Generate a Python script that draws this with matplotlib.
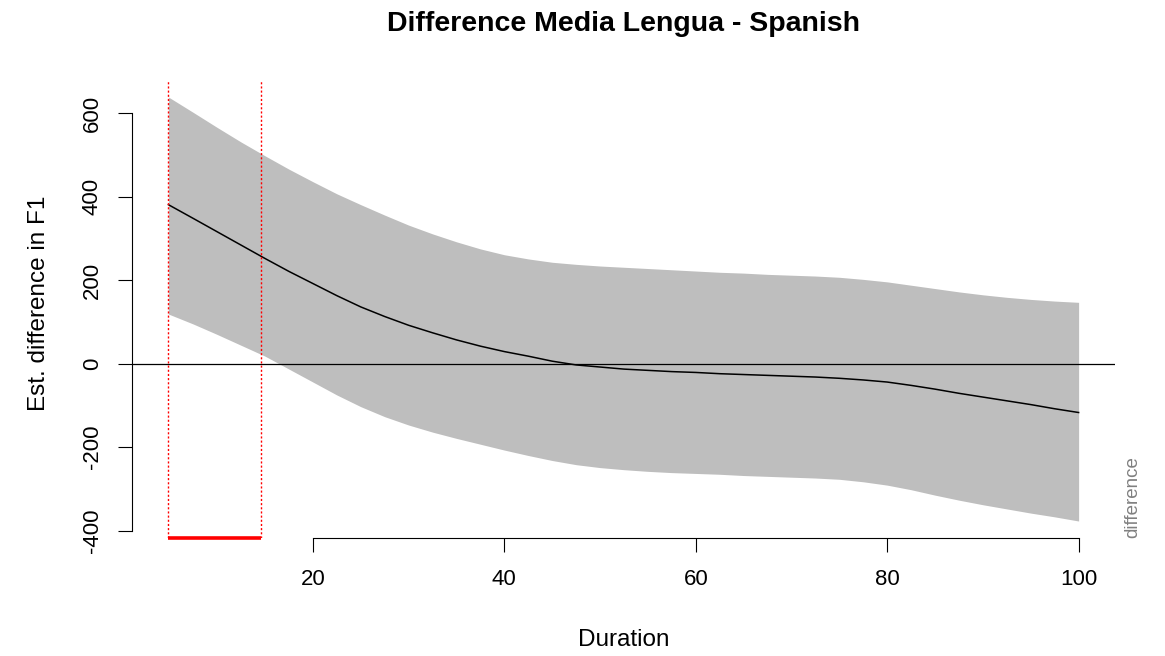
import matplotlib.pyplot as plt

# estimated difference curve (Media Lengua minus Spanish) with its confidence band
duration = [4.9, 7.5, 10, 12.5, 15, 17.5, 20, 22.5, 25, 27.5, 30, 32.5, 35, 37.5, 40, 42.5,
            45, 47.5, 50, 52.5, 55, 57.5, 60, 62.5, 65, 67.5, 70, 72.5, 75, 77.5, 80, 82.5,
            85, 87.5, 90, 92.5, 95, 97.5, 100]
est = [381, 348, 316, 284, 252, 221, 192, 163, 136, 113, 92, 74, 57, 42, 29, 18,
       6, -3, -8, -13, -16, -19, -21, -24, -26, -28, -30, -32, -35, -39, -44, -52,
       -61, -71, -80, -89, -98, -108, -117]
upper = [639, 602, 566, 531, 498, 466, 436, 407, 381, 356, 332, 311, 292, 275, 261, 251,
         243, 238, 234, 231, 228, 225, 222, 219, 217, 214, 212, 210, 207, 202, 196, 188,
         180, 172, 165, 159, 154, 150, 147]
lower = [119, 95, 70, 44, 18, -13, -44, -75, -103, -127, -147, -164, -179, -193, -207, -220,
         -232, -242, -249, -254, -258, -261, -263, -265, -268, -270, -272, -274, -277, -283, -291, -302,
         -315, -327, -338, -348, -358, -367, -377]

# window where the band excludes zero
sig_start, sig_end = 4.9, 14.6

plt.rcParams['font.family'] = ['Liberation Sans', 'DejaVu Sans']
plt.rcParams['axes.unicode_minus'] = False

fig = plt.figure(figsize=(11.65, 6.56), dpi=100)
ax = fig.add_axes([0.1133, 0.1799, 0.8438, 0.6981])

ax.fill_between(duration, lower, upper, color='#bebebe', linewidth=0)
ax.plot(duration, est, color='black', linewidth=1.1)
ax.axhline(0, color='black', linewidth=0.9)

for v in (sig_start, sig_end):
    ax.axvline(v, color='red', linestyle=(0, (1.5, 1.5)), linewidth=1.0)

# R-style 4% padding around the data range
xpad = (max(duration) - min(duration)) * 0.04
ypad = (max(upper) - min(lower)) * 0.04
ax.set_xlim(min(duration) - xpad, max(duration) + xpad)
ax.set_ylim(min(lower) - ypad, max(upper) + ypad)

ax.plot([sig_start, sig_end], [ax.get_ylim()[0]] * 2, color='red', linewidth=2.6,
        solid_capstyle='butt', clip_on=False)

for side in ('top', 'right'):
    ax.spines[side].set_visible(False)
ax.spines['left'].set_bounds(-400, 600)
ax.spines['bottom'].set_bounds(20, 100)
for side in ('left', 'bottom'):
    ax.spines[side].set_linewidth(0.8)

ax.set_xticks([20, 40, 60, 80, 100])
ax.set_yticks([-400, -200, 0, 200, 400, 600])
ax.tick_params(direction='out', length=10, width=0.8, labelsize=16)
ax.tick_params(axis='x', pad=12)
ax.tick_params(axis='y', pad=11)
for lab in ax.get_yticklabels():
    lab.set_rotation(90)
    lab.set_va('center')

ax.text(0.5, -0.2227, 'Duration', transform=ax.transAxes, ha='center', va='center', fontsize=17.5)
ax.text(-0.0946, 0.513, 'Est. difference in F1', transform=ax.transAxes, ha='center',
        va='center', rotation=90, fontsize=17.5)
fig.text(0.5352, 1 - 31 / 656, 'Difference Media Lengua - Spanish', ha='center', va='baseline',
         fontsize=20.5, fontweight='bold')

fig.text(1133 / 1165, 0.18, 'difference', rotation=90, ha='center', va='bottom',
         color='#808080', fontsize=13.5)

fig.savefig('out.png', dpi=100)
